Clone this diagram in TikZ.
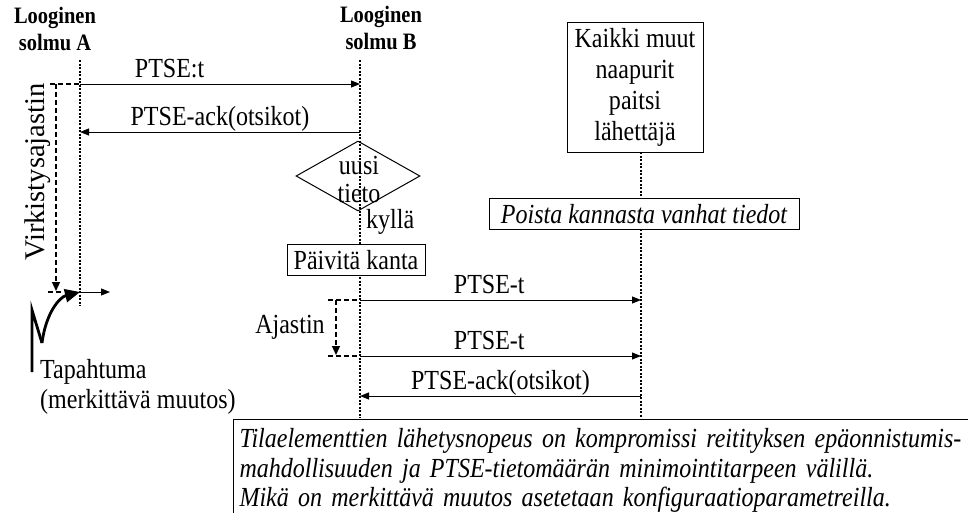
\documentclass[tikz,border=0pt]{standalone}
\usepackage{fontspec}
\setmainfont{Liberation Serif}[FakeStretch=0.87]
\newfontfamily\uprightserif{Liberation Serif}
\usetikzlibrary{arrows.meta,shapes.geometric,positioning}

\tikzset{
  lifeline/.style={line width=1.3pt,dash pattern=on 2pt off 1.5pt},
  msg/.style={line width=1pt,-{Triangle[length=9pt,width=7pt]}},
  msglabel/.style={above,text height=18pt,text depth=5pt,inner sep=1pt},
  timer/.style={line width=1.3pt,dash pattern=on 5pt off 3pt},
  timerarrow/.style={timer,-{Triangle[length=9pt,width=8pt]}},
  box/.style={draw,fill=white,line width=1pt,inner sep=0pt},
  decision/.style={draw,diamond,line width=1pt,minimum width=124pt,minimum height=70pt,inner sep=0pt},
  header/.style={font=\fontsize{23.5}{27}\selectfont\bfseries,align=center},
}

\begin{document}
\begin{tikzpicture}[x=1pt,y=-1pt,inner sep=1pt,font=\fontsize{27.6}{27}\selectfont]
  \clip (0,0) rectangle (968,512);
  \useasboundingbox (0,0) rectangle (968,512);

  % Headers
  \node[header] (headA) at (55,29) {Looginen\\solmu A};
  \node[header] (headB) at (381,28) {Looginen\\solmu B};
  \node[box,minimum width=136pt,minimum height=130pt,align=center,font=\fontsize{27.6}{31}\selectfont] (others) at (635,87)
    {Kaikki muut\\naapurit\\paitsi\\lähettäjä};

  % Lifelines
  \coordinate (topA) at (80,60);
  \coordinate (endA) at (80,306);
  \coordinate (topB) at (360,60);
  \coordinate (endB) at (360,418);
  \coordinate (topC) at (641,152);
  \coordinate (endC) at (641,418);
  \draw[lifeline] (topA) -- (endA);
  \draw[lifeline] (topB) -- (endB);
  \draw[lifeline] (topC) -- (endC);

  % Node A <-> node B
  \coordinate (a1) at (80,84);
  \coordinate (b1) at (360,84);
  \coordinate (a2) at (80,132);
  \coordinate (b2) at (360,132);
  \draw[msg] (a1) -- node[msglabel,pos=0.32] {PTSE:t} (b1);
  \draw[msg] (b2) -- node[msglabel] {PTSE-ack(otsikot)} (a2);

  % Refresh timer
  \coordinate (rtop) at (50,84);
  \coordinate (rtopv) at (56,84);
  \coordinate (rbotv) at (56,291);
  \coordinate (rbotl) at (48,292);
  \coordinate (rbotr) at (63,292);
  \coordinate (aend) at (80,292);
  \coordinate (aout) at (110,292);
  \draw[timer] (rtop) -- (a1);
  \draw[timerarrow] (rtopv) -- (rbotv);
  \draw[timer] (rbotl) -- (rbotr);
  \node[rotate=90,font=\uprightserif\fontsize{28.5}{30}\selectfont] (refresh) at (38,172) {Virkistysajastin};
  \draw[msg] (aend) -- (aout);

  % Event
  \coordinate (ev1) at (32,372);
  \coordinate (ev2) at (32,310);
  \coordinate (ev3) at (42,343);
  \draw[line width=2.8pt] (ev1) -- (ev2) -- (ev3);
  \draw[line width=2.8pt,-{Triangle[length=15pt,width=13pt]}] (ev3) .. controls (46,312) and (60,297) .. (aend);
  \node[anchor=west,align=left,font=\fontsize{27.6}{30}\selectfont] (event) at (39,387)
    {Tapahtuma\\(merkittävä muutos)};

  % Node B processing
  \node[decision] (new) at (358,176) {};
  \node[align=center,font=\fontsize{27.6}{28}\selectfont] (newtxt) at (359,179) {uusi\\tieto};
  \node[anchor=west] (yes) at (365,222) {kyllä};
  \node[box,minimum width=138pt,minimum height=31pt] (update) at (356,260) {Päivitä kanta};
  \node[box,minimum width=310pt,minimum height=31pt,font=\fontsize{27.6}{27}\selectfont\itshape] (purge) at (644,214)
    {Poista kannasta vanhat tiedot};

  % Node B -> others
  \coordinate (b3) at (360,300);
  \coordinate (c3) at (641,300);
  \coordinate (b4) at (360,356);
  \coordinate (c4) at (641,356);
  \coordinate (b5) at (360,396);
  \coordinate (c5) at (641,396);
  \draw[msg] (b3) -- node[msglabel,pos=0.46] {PTSE-t} (c3);
  \draw[msg] (b4) -- node[msglabel,pos=0.46] {PTSE-t} (c4);
  \draw[msg] (c5) -- node[msglabel] {PTSE-ack(otsikot)} (b5);

  % Timer at B
  \coordinate (ttop) at (328,300);
  \coordinate (ttopv) at (336,300);
  \coordinate (tbotv) at (336,355);
  \coordinate (tbot) at (328,356);
  \draw[timer] (ttop) -- (b3);
  \draw[timerarrow] (ttopv) -- (tbotv);
  \draw[timer] (tbot) -- (b4);
  \node (tmrB) at (290,327) {Ajastin};

  % Note
  \node[draw,line width=1pt,anchor=north west,align=left,inner xsep=6pt,inner ysep=9pt,text width=740pt,
    font=\fontsize{27.6}{29.5}\selectfont\itshape] (note) at (233,419)
    {Tilaelementtien lähetysnopeus on kompromissi reitityksen epäonnistumis-\\
     mahdollisuuden ja PTSE-tietomäärän minimointitarpeen välillä.\\
     Mikä on merkittävä muutos asetetaan konfiguraatioparametreilla.};
\end{tikzpicture}
\end{document}
